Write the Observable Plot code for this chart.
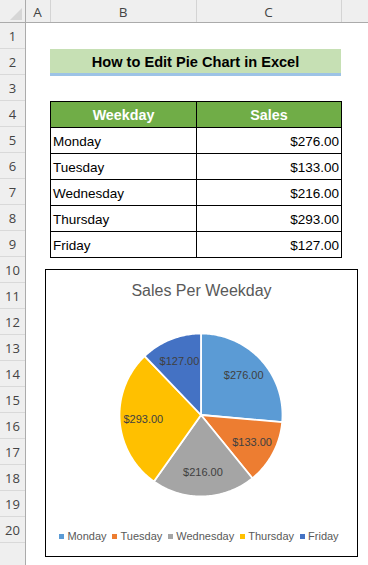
<!DOCTYPE html>
<html><head><meta charset="utf-8">
<script src="https://cdn.jsdelivr.net/npm/d3@7"></script>
<script src="https://cdn.jsdelivr.net/npm/@observablehq/plot@0.6"></script>
<style>
html,body{margin:0;padding:0;background:#fff;}
#sheet{position:relative;width:368px;height:565px;overflow:hidden;background:#fff;font-family:"Liberation Sans",Arial,sans-serif;}
.abs{position:absolute;box-sizing:border-box;}
.hdrfont{font-family:"Open Sans","Noto Sans",sans-serif;color:#444;}
.lg-swatches{display:flex !important;justify-content:center !important;align-items:center !important;min-height:0 !important;margin:0 !important;height:14px;flex-wrap:nowrap !important;font-family:"Liberation Sans",Arial,sans-serif !important;font-size:11px !important;color:#595959 !important;}
.lg-swatch{margin-right:5.5px !important;}
.lg-swatch > svg{margin-right:3.5px !important;}
</style>
</head><body>
<div id="sheet"></div>
<script>
// ---- data ----
const sheetTitle = "How to Edit Pie Chart in Excel";
const headers = ["Weekday", "Sales"];
const days = ["Monday", "Tuesday", "Wednesday", "Thursday", "Friday"];
const sales = [276, 133, 216, 293, 127];
const sliceColors = ["#5b9bd5", "#ed7d31", "#a5a5a5", "#ffc000", "#4472c4"];
const chartTitle = "Sales Per Weekday";
const colLetters = ["A", "B", "C"];
const rowNumbers = [1,2,3,4,5,6,7,8,9,10,11,12,13,14,15,16,17,18,19,20];

// ---- sheet layout (Excel grid) ----
const sheet = document.getElementById("sheet");
function el(cls, css, html){const d=document.createElement("div");d.className="abs "+(cls||"");d.style.cssText=css;if(html!=null)d.innerHTML=html;sheet.appendChild(d);return d;}
const colEdges = [25, 50, 196, 341];
const rowTop = 23, rowH = 26;

el("", "left:0;top:0;width:368px;height:23px;background:#efefef;border-bottom:1px solid #ababab;");
el("", "left:10px;top:8px;width:0;height:0;border-left:12px solid transparent;border-bottom:12px solid #d6d6d6;");
colEdges.forEach((x,i)=>el("", `left:${x}px;top:0;width:1px;height:22px;background:${i===0?'#ababab':'#d4d4d4'};`));
colLetters.forEach((c,i)=>el("hdrfont", `left:${colEdges[i]}px;top:0;width:${colEdges[i+1]-colEdges[i]}px;height:23px;line-height:25px;text-align:center;font-size:13.5px;`, c));
el("", "left:0;top:23px;width:26px;height:542px;background:#efefef;border-right:1px solid #ababab;");
rowNumbers.forEach((r,i)=>el("hdrfont", `left:0;top:${rowTop+rowH*i}px;width:25px;height:${rowH}px;border-bottom:1px solid #d9d9d9;line-height:27px;text-align:center;font-size:13px;`, r));

// title cell (row 2, B:C)
el("", `left:50px;top:49px;width:291px;height:27px;background:#c6e0b4;border-bottom:3px solid #9dc3e6;text-align:center;font-weight:bold;font-size:14.6px;line-height:24px;padding-top:1px;color:#000;`, sheetTitle);

// table
const tTop = 101;
headers.forEach((h,j)=>el("", `left:${colEdges[j+1]}px;top:${tTop}px;width:${colEdges[j+2]-colEdges[j+1]+1}px;height:${rowH+1}px;border:1px solid #000;background:#70ad47;color:#fff;font-weight:bold;font-size:14.3px;text-align:center;line-height:24px;padding-top:1px;`, h));
days.forEach((d,i)=>{
  const top = tTop + rowH*(i+1);
  el("", `left:${colEdges[1]}px;top:${top}px;width:${colEdges[2]-colEdges[1]+1}px;height:${rowH+1}px;border:1px solid #000;font-size:13.5px;line-height:24px;padding:2px 0 0 2px;color:#000;`, d);
  el("", `left:${colEdges[2]}px;top:${top}px;width:${colEdges[3]-colEdges[2]+1}px;height:${rowH+1}px;border:1px solid #000;font-size:13.5px;line-height:24px;padding:2px 2px 0 0;text-align:right;color:#000;`, "$" + sales[i].toFixed(2));
});

// ---- chart ----
const box = el("", "left:45px;top:269px;width:313px;height:288px;border:1px solid #000;background:#fff;");
const tdiv = document.createElement("div");
tdiv.style.cssText = "position:absolute;left:0;top:12px;width:311px;text-align:center;font-size:16px;line-height:18px;color:#595959;font-family:'Liberation Sans',Arial,sans-serif;z-index:2;";
tdiv.textContent = chartTitle;
box.appendChild(tdiv);

const arcs = d3.pie().sort(null)(sales);
const slicePts = arcs.flatMap((a, i) => {
  const pts = [{day: days[i], x: 0, y: 0}];
  const n = Math.max(2, Math.ceil((a.endAngle - a.startAngle) / (Math.PI / 180)));
  for (let k = 0; k <= n; k++) {
    const t = a.startAngle + (a.endAngle - a.startAngle) * k / n;
    pts.push({day: days[i], x: Math.sin(t), y: Math.cos(t)});
  }
  return pts;
});
const labels = arcs.map((a, i) => {
  const m = (a.startAngle + a.endAngle) / 2;
  return {day: days[i], value: sales[i], x: 0.71 * Math.sin(m), y: 0.71 * Math.cos(m)};
});

const pie = Plot.plot({
  width: 311, height: 286,
  marginLeft: 73, marginRight: 75, marginTop: 63, marginBottom: 60,
  x: {domain: [-1, 1], axis: null},
  y: {domain: [-1, 1], axis: null},
  color: {type: "ordinal", domain: days, range: sliceColors},
  style: {background: "transparent", overflow: "visible", fontFamily: "'Liberation Sans', Arial, sans-serif"},
  marks: [
    Plot.line(slicePts, {x: "x", y: "y", z: "day", fill: "day", stroke: "white", strokeWidth: 1.8, curve: "linear-closed"}),
    Plot.text(labels, {x: "x", y: "y", text: d => "$" + d.value.toFixed(2), fill: "#404040", fontSize: 11})
  ]
});
pie.style.position = "absolute"; pie.style.left = "0"; pie.style.top = "0";
box.appendChild(pie);

const lwrap = document.createElement("div");
lwrap.style.cssText = "position:absolute;left:0;top:259px;width:311px;";
lwrap.appendChild(Plot.legend({color: {type: "ordinal", domain: days, range: sliceColors}, swatchSize: 5, className: "lg"}));
box.appendChild(lwrap);
</script>
</body></html>
